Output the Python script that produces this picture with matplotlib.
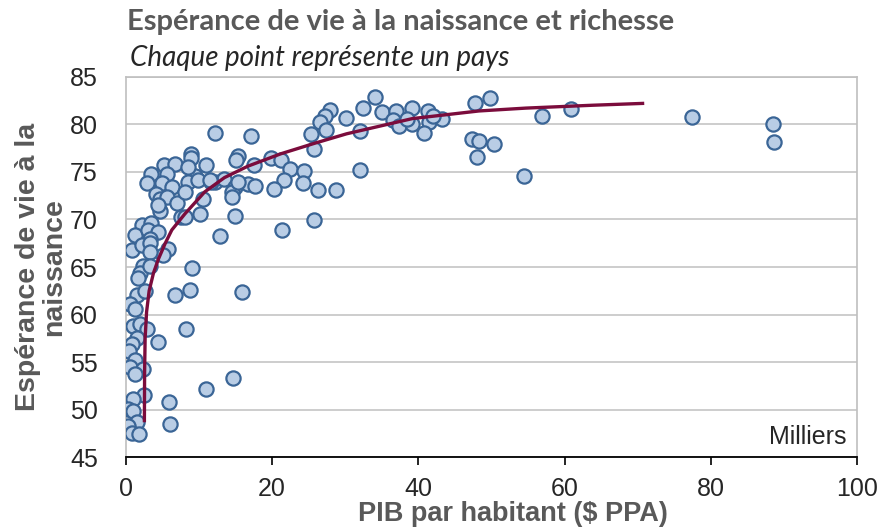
import matplotlib.pyplot as plt
import numpy as np


# PIB par habitant (milliers $ PPA) et espérance de vie, un point par pays
gdp = [47.7, 49.8, 56.9, 60.9, 77.4, 88.5, 88.6, 47.4, 48.3, 50.3, 48.1, 54.5,
       34.1, 27.9, 27.2, 26.5, 30.1, 32.4, 32.0, 35.1, 37.0, 36.5, 37.4, 39.2,
       39.2, 41.3, 41.5, 40.8, 43.2, 32.0, 38.5, 42.0,
       12.2, 17.1, 25.4, 27.4, 25.8, 15.3, 15.1, 17.5, 19.9, 21.2, 22.4, 24.4,
       21.6, 24.2, 20.3, 26.3, 28.7, 12.2, 13.5, 15.0, 14.5, 14.5, 16.7, 17.7,
       15.4, 14.9, 12.9, 21.3, 25.7,
       8.9, 8.9, 5.3, 6.7, 3.5, 11.0, 9.5, 2.9, 5.6, 4.9, 6.3, 8.5, 9.9, 11.7,
       4.2, 4.7, 5.6, 7.0, 8.1, 10.6, 4.7, 7.6, 10.1, 2.2, 3.5, 1.3, 3.1, 4.4,
       3.3, 0.8, 8.5, 11.5, 4.4, 8.1,
       2.2, 3.3, 5.8, 5.1, 3.3, 9.1, 2.4, 1.95, 1.7, 3.3, 6.7, 8.8, 1.5, 0.6,
       1.3, 2.6, 1.0, 1.95, 2.9, 8.2, 1.5, 4.4, 0.8, 15.9,
       0.45, 1.3, 0.6, 2.4, 1.3, 11.0, 2.5, 1.0, 5.9, 0.35, 1.0, 1.6, 0.27,
       6.0, 0.8, 1.8, 14.7]
life = [82.2, 82.8, 80.9, 81.6, 80.8, 80.0, 78.1, 78.5, 78.2, 77.9, 76.6, 74.6,
        82.9, 81.5, 80.9, 80.2, 80.7, 81.7, 79.3, 81.3, 81.4, 80.5, 79.8, 81.7,
        80.0, 81.4, 80.2, 79.1, 80.6, 75.2, 80.6, 80.9,
        79.1, 78.8, 79.0, 79.4, 77.4, 76.7, 76.2, 75.7, 76.5, 76.2, 75.3, 75.1,
        74.2, 73.8, 73.2, 73.1, 73.1, 73.9, 74.3, 73.4, 72.9, 72.4, 73.7, 73.5,
        73.9, 70.4, 68.3, 68.9, 69.9,
        76.9, 76.5, 75.7, 75.8, 74.8, 75.7, 74.6, 73.8, 74.8, 73.8, 73.4, 73.9,
        74.1, 73.9, 72.7, 72.2, 72.4, 71.7, 72.9, 72.2, 70.9, 70.3, 70.6, 69.4,
        69.6, 68.4, 68.9, 68.7, 68.0, 66.8, 75.5, 74.1, 71.5, 70.3,
        67.3, 67.5, 66.9, 66.3, 66.6, 64.9, 65.1, 64.4, 63.9, 65.1, 62.1, 62.6,
        62.1, 61.1, 60.6, 62.5, 58.8, 59.0, 58.5, 58.5, 57.6, 57.1, 56.9, 62.4,
        56.2, 55.2, 54.5, 54.3, 53.8, 52.2, 51.6, 51.1, 50.8, 50.1, 49.9, 48.75,
        48.3, 48.5, 47.6, 47.5, 53.3]

# courbe de tendance
trend_x = [2.55, 2.58, 2.65, 2.85, 3.2, 3.8, 4.5, 5.4, 6.3, 8.1, 10.8, 13.5,
           16.7, 21.2, 25.8, 30.2, 39.2, 48.3, 54.7, 63.8, 70.9]
trend_y = [48.7, 54.0, 57.5, 60.3, 62.5, 64.4, 65.9, 67.5, 68.9, 70.6, 72.9,
           74.4, 75.6, 76.9, 78.0, 79.0, 80.6, 81.4, 81.7, 82.0, 82.2]

xticks = [0, 20, 40, 60, 80, 100]
yticks = [45, 50, 55, 60, 65, 70, 75, 80, 85]

gray_txt = '#595959'

fig = plt.figure(figsize=(8.83, 5.30), dpi=100)
ax = fig.add_axes([0.1424, 0.1368, 0.8282, 0.7185])

ax.scatter(gdp, life, s=105, facecolor='#b9cde5', edgecolor='#3a6596',
           linewidth=1.6, zorder=3)
ax.plot(trend_x, trend_y, color='#7b0c3c', lw=2.4, solid_joinstyle='round',
        solid_capstyle='butt', zorder=4)

ax.set_xlim(0, 100)
ax.set_ylim(45, 85)
ax.set_xticks(xticks)
ax.set_yticks(yticks)
ax.yaxis.grid(True, color='#c0c0c0', lw=1.1)
ax.set_axisbelow(True)

for spine in ['top', 'right', 'left']:
    ax.spines[spine].set_color('#bfbfbf')
    ax.spines[spine].set_linewidth(1.2)
ax.spines['bottom'].set_color('black')
ax.spines['bottom'].set_linewidth(1.3)

ax.tick_params(axis='y', length=0, pad=20, labelsize=18, labelcolor='#262626')
ax.tick_params(axis='x', length=6, width=1.2, direction='out', pad=8,
               labelsize=18, labelcolor='#262626')
for lab in ax.get_xticklabels() + ax.get_yticklabels():
    lab.set_family('Liberation Sans')

ax.set_xlabel('PIB par habitant ($ PPA)', fontsize=19.5, fontweight='bold',
              color=gray_txt, family='Liberation Sans')
ax.xaxis.set_label_coords(0.53, -0.115)
ax.set_ylabel('Espérance de vie à la\nnaissance', fontsize=20.5,
              fontweight='bold', color=gray_txt, family='Liberation Sans',
              linespacing=1.0)
ax.yaxis.set_label_coords(-0.08, 0.5)

ax.text(0.985, 0.022, 'Milliers', transform=ax.transAxes, ha='right',
        va='bottom', fontsize=18, color='#262626', family='Liberation Sans')

fig.text(0.1438, 0.943, 'Espérance de vie à la naissance et richesse',
         fontsize=21, fontweight='bold', color=gray_txt, family='Lato')
fig.text(0.1472, 0.876, 'Chaque point représente un pays', fontsize=20,
         style='italic', color='#262626', family='Lato')

plt.savefig('out.png', dpi=100)
